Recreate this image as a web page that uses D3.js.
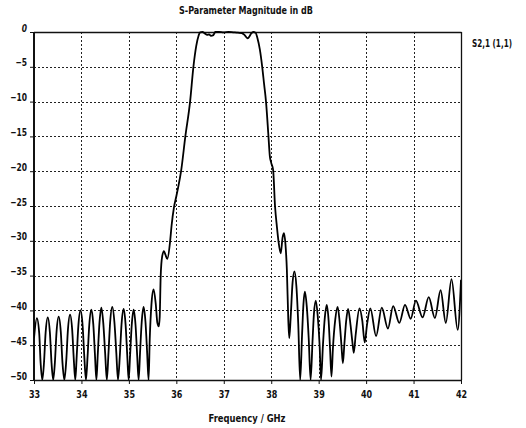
<!DOCTYPE html>
<html>
<head>
<meta charset="utf-8">
<script src="https://cdn.jsdelivr.net/npm/d3@7"></script>
<style>
  html, body { margin: 0; padding: 0; background: #fff; }
  svg { display: block; }
  text { font-family: "Liberation Sans Narrow", "DejaVu Sans Condensed", "Liberation Sans", sans-serif; font-weight: bold; fill: #111; }
</style>
</head>
<body>
<svg id="chart" width="526" height="428"></svg>
<script>
// ---- data ----
const titleText = "S-Parameter Magnitude in dB";
const xAxisTitle = "Frequency / GHz";
const seriesName = "S2,1 (1,1)";
const xTicks = [33, 34, 35, 36, 37, 38, 39, 40, 41, 42];
const yTicks = [0, -5, -10, -15, -20, -25, -30, -35, -40, -45, -50];

const freqGHz = [
  33.00, 33.06, 33.11, 33.14, 33.175,
  33.21, 33.245, 33.29, 33.335, 33.37, 33.405,
  33.44, 33.475, 33.52, 33.565, 33.60, 33.64,
  33.68, 33.715, 33.76, 33.805, 33.84, 33.87,
  33.90, 33.935, 33.98, 34.025, 34.06, 34.095,
  34.13, 34.165, 34.21, 34.25, 34.285, 34.315,
  34.345, 34.38, 34.42, 34.46, 34.50, 34.535,
  34.57, 34.605, 34.65, 34.695, 34.735, 34.77,
  34.81, 34.845, 34.89, 34.93, 34.965, 34.995,
  35.025, 35.06, 35.10, 35.14, 35.175, 35.205,
  35.235, 35.27, 35.31, 35.35, 35.385, 35.415,
  35.44, 35.475, 35.52, 35.565, 35.60, 35.63,
  35.65, 35.67, 35.70, 35.74, 35.77, 35.81,
  35.87, 35.90, 35.95, 36.00, 36.03, 36.10,
  36.19, 36.29, 36.36, 36.42, 36.47, 36.50,
  36.55, 36.60, 36.65, 36.69, 36.73, 36.78,
  36.82, 36.90, 37.00, 37.10, 37.20, 37.30,
  37.38, 37.44, 37.50, 37.53, 37.58, 37.62,
  37.67, 37.71, 37.76, 37.81, 37.85, 37.89,
  37.94, 37.97, 38.00, 38.04, 38.08, 38.12,
  38.15, 38.20, 38.24, 38.27, 38.30, 38.33,
  38.36, 38.38, 38.41, 38.45, 38.49, 38.53,
  38.57, 38.61, 38.65, 38.68, 38.71, 38.75,
  38.79, 38.83, 38.87, 38.90, 38.94, 38.98,
  39.02, 39.05, 39.09, 39.13, 39.17, 39.21,
  39.24, 39.27, 39.30, 39.35, 39.40, 39.44,
  39.48, 39.51, 39.54, 39.58, 39.62, 39.67,
  39.71, 39.74, 39.78, 39.86, 39.92, 39.97,
  40.02, 40.09, 40.21, 40.33, 40.46, 40.57,
  40.70, 40.82, 40.94, 41.05, 41.19, 41.32,
  41.45, 41.57, 41.68, 41.80, 41.93, 42.00
];

const s21dB = [
  -44.0, -41.1, -43.3, -47.6, -50,
  -47.6, -43.2, -41.0, -43.2, -47.6, -50,
  -47.5, -43.1, -40.9, -43.1, -47.5, -50,
  -47.2, -42.8, -40.6, -42.8, -47.2, -50,
  -46.6, -42.2, -40.0, -42.2, -46.6, -50,
  -46.5, -42.1, -39.9, -42.0, -46.4, -50,
  -46.2, -41.8, -39.6, -41.8, -46.2, -50,
  -46.1, -41.7, -39.5, -41.7, -46.1, -50,
  -46.4, -42.0, -39.8, -42.0, -46.4, -50,
  -46.5, -42.1, -39.9, -42.1, -46.5, -50,
  -46.1, -41.7, -39.5, -41.7, -46.1, -50,
  -44.0, -39.2, -37.0, -39.0, -41.8, -42.3,
  -40.9, -35.1, -32.3, -31.5, -32.0, -32.6,
  -30.0, -27.8, -25.2, -23.6, -22.6, -20.0,
  -15.0, -10.0, -5.0, -2.0, -0.5, -0.05,
  0.0, -0.2, -0.4, -0.35, -0.55, -0.45,
  0.0, 0.0, -0.05, 0.0, -0.05, -0.1,
  -0.15, -0.45, -0.9, -0.75, -0.2, 0.0,
  -0.1, -0.9, -2.5, -5.0, -7.5, -10.0,
  -14.8, -17.8, -18.8, -19.8, -25.0, -28.0,
  -29.9, -31.8, -29.5, -28.9, -30.5, -34.2,
  -41.4, -44.0, -41.0, -36.0, -34.4, -36.5,
  -42.0, -50, -43.5, -39.0, -37.3, -39.5,
  -44.0, -50, -44.5, -40.5, -38.6, -40.8,
  -45.0, -50, -45.0, -41.0, -39.2, -41.5,
  -45.5, -49.5, -45.5, -41.3, -39.5, -41.5,
  -45.0, -47.6, -45.0, -41.5, -39.8, -42.0,
  -44.5, -46.1, -43.5, -39.7, -41.5, -44.6,
  -42.0, -39.7, -43.7, -39.6, -42.6, -39.4,
  -41.8, -39.2, -41.2, -38.6, -41.0, -38.1,
  -41.1, -37.1, -41.8, -35.5, -42.8, -35.6
];

// ---- layout ----
const svg = d3.select("#chart");
const plot = { left: 34, right: 461, top: 32, bottom: 380 };

const x = d3.scaleLinear().domain([33, 42]).range([plot.left, plot.right]);
const y = d3.scaleLinear().domain([0, -50]).range([plot.top, plot.bottom]);

const snap = v => Math.round(v) + 0.5;
// narrow the bundled condensed font to match the reference's narrow face
const narrow = (sel, k) => sel.each(function () {
  const w = this.getComputedTextLength();
  d3.select(this).attr("textLength", w * k).attr("lengthAdjust", "spacingAndGlyphs");
});

// grid
const grid = svg.append("g");
grid.selectAll("line.vg").data(xTicks.slice(1, -1)).join("line")
  .attr("x1", d => snap(x(d))).attr("x2", d => snap(x(d)))
  .attr("y1", plot.top).attr("y2", plot.bottom)
  .attr("stroke", "#222").attr("stroke-width", 1).attr("stroke-dasharray", "2,2");
grid.selectAll("line.hg").data(yTicks.slice(1, -1)).join("line")
  .attr("y1", d => snap(y(d))).attr("y2", d => snap(y(d)))
  .attr("x1", plot.left).attr("x2", plot.right)
  .attr("stroke", "#222").attr("stroke-width", 1).attr("stroke-dasharray", "2,2");

// frame
const frame = svg.append("g").attr("stroke", "#111").attr("fill", "none");
frame.append("line").attr("x1", plot.left).attr("x2", plot.right + 0.5)
  .attr("y1", snap(y(0))).attr("y2", snap(y(0))).attr("stroke-width", 1.3);
frame.append("line").attr("x1", plot.left).attr("x2", plot.right + 0.5)
  .attr("y1", snap(y(-50))).attr("y2", snap(y(-50))).attr("stroke-width", 1.3);
frame.append("line").attr("x1", snap(x(42))).attr("x2", snap(x(42)))
  .attr("y1", plot.top).attr("y2", plot.bottom).attr("stroke-width", 1.3);
frame.append("line").attr("x1", x(33)).attr("x2", x(33))
  .attr("y1", plot.top).attr("y2", plot.bottom + 1).attr("stroke-width", 2);

// axes via d3 axis generators
const yAxis = d3.axisLeft(y).tickValues(yTicks).tickSize(4).tickFormat(d3.format("d"));
const yG = svg.append("g").attr("transform", `translate(${plot.left},0)`).call(yAxis);
yG.select(".domain").remove();
yG.selectAll(".tick line").attr("stroke", "#111");
yG.selectAll(".tick text")
  .attr("x", -7).attr("y", -1).attr("dy", null)
  .attr("font-size", 10.5).attr("font-family", null).attr("fill", "#111")
  .style("font-style", d => d === 0 ? "italic" : "normal")
  .call(narrow, 0.8);

const xAxis = d3.axisBottom(x).tickValues(xTicks).tickSize(4).tickFormat(d3.format("d"));
const xG = svg.append("g").attr("transform", `translate(0,${plot.bottom})`).call(xAxis);
xG.select(".domain").remove();
xG.selectAll(".tick line").attr("stroke", "#111");
xG.selectAll(".tick text").attr("y", 10.5).attr("font-size", 10.5)
  .attr("font-family", null).attr("fill", "#111")
  .call(narrow, 0.85);

// data line
svg.append("clipPath").attr("id", "clip").append("rect")
  .attr("x", plot.left).attr("y", plot.top - 1)
  .attr("width", plot.right - plot.left).attr("height", plot.bottom - plot.top + 1);

const pts = freqGHz.map((f, i) => [f, Math.max(-50, Math.min(0, s21dB[i]))]);
const line = d3.line().x(d => x(d[0])).y(d => y(d[1])).curve(d3.curveMonotoneX);
svg.append("path").datum(pts)
  .attr("clip-path", "url(#clip)")
  .attr("d", line).attr("fill", "none")
  .attr("stroke", "#000").attr("stroke-width", 1.8).attr("stroke-linejoin", "round");

// texts
svg.append("text").attr("x", 246).attr("y", 14).attr("text-anchor", "middle")
  .attr("font-size", 11).attr("textLength", 134).attr("lengthAdjust", "spacingAndGlyphs")
  .text(titleText);
svg.append("text").attr("x", 247).attr("y", 422).attr("text-anchor", "middle")
  .attr("font-size", 11).attr("textLength", 77).attr("lengthAdjust", "spacingAndGlyphs")
  .text(xAxisTitle);
svg.append("text").attr("x", 472).attr("y", 47).attr("text-anchor", "start")
  .attr("font-size", 11).attr("textLength", 40).attr("lengthAdjust", "spacingAndGlyphs")
  .text(seriesName);
</script>
</body>
</html>
